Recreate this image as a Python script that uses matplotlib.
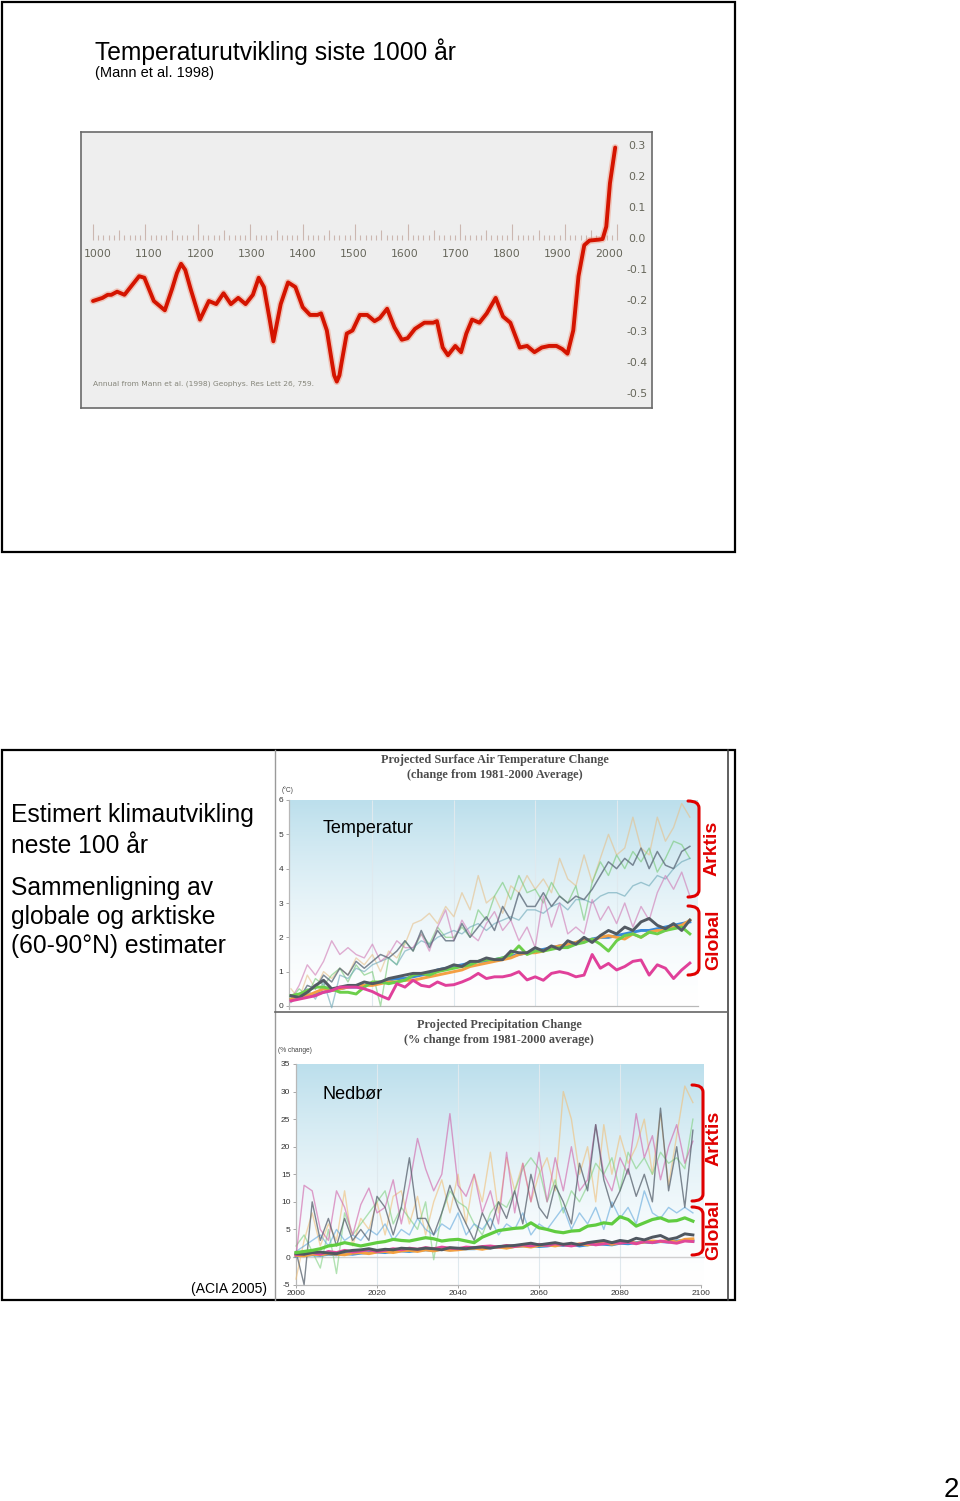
import numpy as np
import matplotlib
matplotlib.use("Agg")
import matplotlib.pyplot as plt
from matplotlib.path import Path
from matplotlib.patches import PathPatch, Rectangle

W, H = 960, 1501
plt.rcParams['font.family'] = ['Liberation Sans', 'DejaVu Sans']

# ---------------- data ----------------
MANN_YEARS = [1000, 1018, 1028, 1035, 1046, 1060, 1074, 1088, 1098, 1116, 1137, 1151, 1160,
              1168, 1176, 1186, 1204, 1221, 1235, 1249, 1263, 1277, 1291, 1305, 1316, 1326,
              1337, 1344, 1358, 1372, 1386, 1400, 1414, 1428, 1435, 1446, 1456, 1460, 1465,
              1470, 1474, 1484, 1495, 1509, 1523, 1537, 1547, 1561, 1575, 1589, 1600, 1614,
              1632, 1649, 1656, 1667, 1677, 1691, 1702, 1712, 1723, 1737, 1751, 1768, 1782,
              1796, 1814, 1828, 1842, 1856, 1870, 1884, 1895, 1905, 1916, 1926, 1937, 1947,
              1965, 1972, 1979, 1986, 1996]
MANN_ANOMALY = [-0.20, -0.19, -0.18, -0.18, -0.17, -0.18, -0.15, -0.12, -0.125, -0.20, -0.23,
                -0.16, -0.11, -0.08, -0.10, -0.16, -0.26, -0.20, -0.21, -0.175, -0.21, -0.19,
                -0.21, -0.18, -0.125, -0.155, -0.26, -0.33, -0.21, -0.14, -0.155, -0.22,
                -0.245, -0.245, -0.24, -0.295, -0.40, -0.44, -0.46, -0.44, -0.40, -0.305,
                -0.295, -0.245, -0.245, -0.265, -0.255, -0.225, -0.285, -0.325, -0.32, -0.29,
                -0.27, -0.27, -0.265, -0.35, -0.375, -0.345, -0.365, -0.305, -0.26, -0.27,
                -0.24, -0.19, -0.25, -0.27, -0.35, -0.345, -0.365, -0.35, -0.345, -0.345,
                -0.355, -0.37, -0.295, -0.12, -0.02, -0.005, -0.002, 0.0, 0.04, 0.18, 0.295]
MANN_XLABELS = [1000, 1100, 1200, 1300, 1400, 1500, 1600, 1700, 1800, 1900, 2000]
MANN_YLABELS = [0.3, 0.2, 0.1, 0.0, -0.1, -0.2, -0.3, -0.4, -0.5]

PROJ_YEARS = list(range(2000, 2100, 2))

TEMP_GLOBAL_GRAY = [0.3, 0.25, 0.4, 0.6, 0.75, 0.5, 0.55, 0.6, 0.6, 0.7,
                    0.65, 0.7, 0.8, 0.85, 0.9, 0.95, 0.95, 1.0, 1.05, 1.1,
                    1.2, 1.15, 1.3, 1.3, 1.4, 1.35, 1.35, 1.6, 1.55, 1.55,
                    1.7, 1.6, 1.75, 1.65, 1.9, 1.8, 2.0, 1.85, 2.05, 2.2,
                    2.1, 2.3, 2.2, 2.45, 2.55, 2.35, 2.25, 2.4, 2.2, 2.5]
TEMP_GLOBAL_BLUE = [0.2, 0.25, 0.3, 0.35, 0.4, 0.45, 0.5, 0.55, 0.55, 0.6,
                    0.65, 0.7, 0.75, 0.8, 0.8, 0.85, 0.9, 0.95, 1.05, 1.1,
                    1.15, 1.2, 1.25, 1.3, 1.3, 1.35, 1.4, 1.45, 1.5, 1.55,
                    1.6, 1.65, 1.7, 1.75, 1.75, 1.85, 1.9, 1.95, 2.0, 2.0,
                    2.05, 2.1, 2.15, 2.2, 2.2, 2.25, 2.3, 2.35, 2.4, 2.45]
TEMP_GLOBAL_ORANGE = [0.2, 0.3, 0.3, 0.4, 0.5, 0.45, 0.5, 0.55, 0.6, 0.6,
                      0.6, 0.65, 0.7, 0.7, 0.75, 0.75, 0.8, 0.85, 0.9, 0.95,
                      1.0, 1.05, 1.15, 1.2, 1.25, 1.3, 1.35, 1.4, 1.5, 1.55,
                      1.55, 1.6, 1.7, 1.75, 1.8, 1.85, 1.95, 1.9, 2.0, 2.05,
                      2.0, 1.95, 2.1, 2.0, 2.15, 2.2, 2.2, 2.3, 2.35, 2.5]
TEMP_GLOBAL_GREEN = [0.3, 0.35, 0.45, 0.55, 0.55, 0.5, 0.4, 0.4, 0.35, 0.55,
                     0.7, 0.7, 0.65, 0.7, 0.75, 0.9, 0.95, 0.9, 1.0, 1.05,
                     1.1, 1.15, 1.2, 1.3, 1.35, 1.35, 1.4, 1.5, 1.75, 1.5,
                     1.6, 1.6, 1.65, 1.7, 1.7, 1.8, 1.85, 1.95, 1.8, 1.6,
                     1.9, 2.05, 2.1, 2.0, 2.15, 2.1, 2.2, 2.25, 2.3, 2.1]
TEMP_GLOBAL_MAGENTA = [0.15, 0.2, 0.25, 0.3, 0.4, 0.45, 0.55, 0.55, 0.55, 0.5,
                       0.42, 0.3, 0.2, 0.65, 0.55, 0.75, 0.6, 0.56, 0.7, 0.6,
                       0.62, 0.7, 0.8, 0.95, 0.8, 0.85, 0.85, 0.9, 1.0, 0.76,
                       0.85, 0.75, 0.95, 1.0, 0.95, 0.85, 0.9, 1.5, 1.1, 1.24,
                       1.05, 1.15, 1.3, 1.34, 0.9, 1.2, 1.1, 0.8, 1.05, 1.25]
TEMP_ARCTIC_TAN = [0.5, 0.2, 0.9, 0.5, 1.0, 0.8, 1.1, 0.9, 1.4, 1.2,
                   1.5, 1.0, 1.6, 1.4, 1.8, 2.4, 2.5, 2.7, 2.4, 2.9,
                   2.6, 3.3, 2.8, 3.8, 3.0, 3.2, 2.7, 3.5, 3.3, 3.8,
                   3.4, 3.7, 3.3, 4.3, 3.7, 3.5, 4.4, 3.6, 4.3, 5.0,
                   4.4, 4.6, 5.5, 4.6, 4.4, 5.5, 4.8, 5.2, 5.9, 5.5]
TEMP_ARCTIC_GREEN = [0.2, 0.5, 0.3, 0.8, 0.6, 0.9, 1.1, 0.7, 1.2, 0.9,
                     1.0, 0.0, 1.4, 1.2, 1.9, 1.6, 2.1, 1.8, 2.3, 2.0,
                     2.0, 2.3, 2.0, 2.8, 2.5, 3.2, 3.6, 3.1, 3.8, 3.3,
                     3.4, 3.0, 3.6, 3.2, 3.0, 3.5, 2.5, 3.6, 4.2, 3.8,
                     4.4, 4.0, 4.5, 4.2, 4.6, 3.9, 4.3, 4.8, 4.7, 4.3]
TEMP_ARCTIC_TEAL = [0.1, 0.3, 0.5, 0.2, 0.7, -0.05, 0.9, 0.8, 1.1, 1.0,
                    1.2, 1.3, 1.4, 1.2, 1.6, 1.7, 1.9, 1.8, 2.0, 2.1,
                    2.2, 2.1, 2.3, 2.4, 2.2, 2.4, 2.5, 2.6, 2.5, 2.8,
                    2.8, 2.7, 2.9, 3.0, 2.8, 3.1, 3.1, 3.0, 3.2, 3.3,
                    3.3, 3.2, 3.5, 3.6, 3.5, 3.8, 3.7, 4.0, 4.2, 4.3]
TEMP_ARCTIC_SLATE = [0.3, 0.2, 0.6, 0.5, 0.9, 0.7, 1.1, 0.9, 1.3, 1.1,
                     1.3, 1.5, 1.4, 1.6, 1.9, 1.6, 2.2, 1.7, 2.2, 1.9,
                     1.9, 2.4, 2.0, 2.3, 2.6, 2.2, 2.9, 2.5, 3.3, 2.9,
                     2.9, 3.3, 2.9, 3.2, 3.0, 3.2, 3.1, 3.4, 3.8, 4.2,
                     4.0, 4.3, 4.1, 4.6, 4.0, 4.5, 4.1, 4.0, 4.5, 4.65]
TEMP_ARCTIC_PINK = [0.2, 0.6, 1.2, 0.9, 1.3, 1.9, 1.5, 1.7, 1.5, 1.4,
                    1.8, 1.3, 1.5, 1.9, 1.7, 1.7, 2.1, 1.6, 2.3, 2.8,
                    1.9, 2.5, 2.1, 1.9, 2.4, 2.75, 2.2, 2.5, 1.9, 2.3,
                    1.7, 3.2, 2.3, 3.0, 2.1, 2.3, 2.1, 3.1, 2.5, 2.9,
                    2.4, 3.0, 2.3, 2.9, 2.5, 3.3, 3.8, 3.4, 3.9, 3.2]
TEMP_YTICKS = [0, 1, 2, 3, 4, 5, 6]

PREC_GLOBAL_GREEN = [0.8, 1.0, 1.2, 1.5, 2.0, 2.2, 2.6, 2.3, 2.0, 2.3,
                     2.6, 2.8, 3.2, 3.0, 2.9, 3.2, 3.5, 3.3, 2.9, 3.1,
                     3.2, 2.9, 2.6, 3.6, 4.2, 4.8, 5.0, 5.2, 5.3, 6.2,
                     5.3, 5.0, 4.6, 4.4, 4.7, 4.8, 5.6, 5.8, 6.2, 6.0,
                     7.3, 6.8, 5.6, 6.2, 6.8, 7.1, 6.5, 6.6, 7.1, 6.5]
PREC_GLOBAL_GRAY = [0.6, 0.5, 0.8, 0.9, 0.7, 0.6, 1.0, 1.2, 1.3, 1.5,
                    1.2, 1.4, 1.3, 1.6, 1.5, 1.4, 1.6, 1.5, 1.3, 1.7,
                    1.6, 1.5, 1.7, 1.8, 1.6, 1.9, 2.0, 2.1, 2.3, 2.5,
                    2.2, 2.4, 2.6, 2.3, 2.5, 2.2, 2.6, 2.8, 3.0, 2.6,
                    3.0, 2.8, 3.4, 3.1, 3.6, 3.9, 3.2, 3.5, 4.2, 4.0]
PREC_GLOBAL_BLUE = [0.2, 0.3, 0.4, 0.3, 0.5, 0.4, 0.6, 0.5, 0.7, 0.8,
                    0.9, 0.8, 1.0, 1.1, 1.0, 1.2, 1.3, 1.2, 1.4, 1.3,
                    1.4, 1.5, 1.5, 1.6, 1.7, 1.8, 1.7, 1.9, 2.0, 2.1,
                    1.9, 2.0, 2.2, 2.1, 2.3, 2.0, 2.2, 2.4, 2.3, 2.2,
                    2.5, 2.4, 2.6, 2.7, 2.6, 2.8, 2.7, 2.9, 3.0, 2.9]
PREC_GLOBAL_ORANGE = [0.3, 0.2, 0.5, 0.4, 0.6, 0.5, 0.4, 0.7, 0.8, 0.6,
                      0.9, 1.0, 0.8, 1.1, 1.2, 1.0, 1.3, 1.1, 1.4, 1.2,
                      1.3, 1.5, 1.6, 1.4, 1.7, 1.8, 1.6, 1.9, 2.0, 1.8,
                      2.1, 2.2, 2.0, 2.3, 2.1, 2.4, 2.2, 2.5, 2.6, 2.3,
                      2.6, 2.8, 2.5, 2.7, 2.9, 2.8, 3.0, 2.7, 3.2, 3.3]
PREC_GLOBAL_MAGENTA = [0.4, 0.6, 0.8, 0.5, 1.0, 0.8, 1.2, 0.9, 1.1, 1.3,
                       1.0, 1.2, 1.5, 1.3, 1.6, 1.4, 1.7, 1.5, 1.8, 1.6,
                       1.5, 1.8, 1.7, 1.9, 2.0, 1.8, 2.1, 1.9, 2.2, 2.0,
                       2.3, 2.1, 2.4, 2.2, 2.0, 2.3, 2.5, 2.2, 2.4, 2.6,
                       2.5, 2.7, 2.4, 2.8, 2.6, 2.9, 2.7, 2.5, 2.9, 2.8]
PREC_ARCTIC_PINK = [0, 13, 12, 5, 3, 12, 9, 4, 9.5, 12.5,
                    8, 9, 14, 6, 13, 21.5, 16, 12, 15, 26,
                    13, 11, 15, 8, 12, 6, 19, 8, 17, 10,
                    19, 10, 18, 12, 20, 12, 14, 24, 15, 12,
                    18, 15, 26, 18, 22, 14, 20, 24, 17, 21]
PREC_ARCTIC_TAN = [-4, 3, 8, 2, 6, 3, 12, 2, 7, 5,
                   10, 4, 11, 12, 6, 11, 4, 10, 14, 8,
                   15, 6, 15, 10, 19, 8, 18, 12, 17, 10,
                   15, 18, 12, 30, 25, 15, 20, 10, 24, 15,
                   22, 17, 20, 25, 15, 26, 13, 22, 31, 28]
PREC_ARCTIC_SLATE = [1, -5, 10, 3, 7, 2, 7, 3, 5, 3,
                     11, 9, 4, 9, 18, 7, 7, 4, 8, 13,
                     9, 6, 3, 8, 5, 10, 7, 12, 6, 15,
                     9, 7, 13, 10, 6, 17, 12, 24, 14, 9,
                     12, 16, 11, 15, 10, 27, 12, 20, 9, 23]
PREC_ARCTIC_GREEN = [2, 4, 1, -2, 5, -3, 8, 4, 6, 8,
                     10, 12, 6, 9, 7, 5, 10, -0.5, 8, 12,
                     10, 9, 6, 4, 8, 10, 9, 12, 16, 18,
                     16, 10, 14, 8, 12, 10, 13, 17, 15, 18,
                     12, 19, 16, 18, 15, 19, 17, 18, 16, 25]
PREC_ARCTIC_BLUE = [1, 2, 3, 4, 2, 5, 3, 4, 3, 5,
                    4, 6, 3, 5, 4, 7, 5, 4, 6, 5,
                    8, 4, 6, 5, 7, 4, 6, 5, 8, 4,
                    6, 5, 7, 9, 5, 8, 6, 9, 5, 10,
                    7, 9, 6, 12, 8, 7, 9, 8, 9, 8]
PREC_YTICKS = [-5, 0, 5, 10, 15, 20, 25, 30, 35]
PREC_XTICKS = [2000, 2020, 2040, 2060, 2080, 2100]

# ---------------- figure helpers ----------------
fig = plt.figure(figsize=(W / 100, H / 100), dpi=100)
fig.patch.set_facecolor('white')


def lin(p0, v0, p1, v1, q):
    return v0 + (q - p0) * (v1 - v0) / (p1 - p0)


def px_axes(l, t, r, b, xcal, ycal, z=1):
    ax = fig.add_axes([l / W, 1 - b / H, (r - l) / W, (b - t) / H], zorder=z)
    ax.set_xlim(lin(*xcal, l), lin(*xcal, r))
    ax.set_ylim(lin(*ycal, b), lin(*ycal, t))
    return ax


NARROW = ['Liberation Sans Narrow', 'DejaVu Sans']
SERIF = ['Liberation Serif', 'DejaVu Serif']

# ---------------- Mann et al. chart ----------------
MX = (93, 1000, 617.3, 2000)
MY = (239, 0.0, 146, 0.3)
axm = px_axes(81, 132, 652, 408, MX, MY)
axm.set_facecolor('#eeeeee')
for s in axm.spines.values():
    s.set_color('#6a6a6a')
    s.set_linewidth(1.2)
axm.set_xticks([])
axm.set_yticks([])
tick_years = np.arange(1000, 2001, 10)
tick_tops = np.where(tick_years % 100 == 0, 0.047, np.where(tick_years % 50 == 0, 0.028, 0.012))
axm.vlines(tick_years, -0.003, tick_tops, color='#cbb7b0', lw=0.8)
for yr in MANN_XLABELS:
    xpx = 98 + (yr - 1000) * 0.511
    axm.text(lin(*MX, xpx), lin(*MY, 254), str(yr), ha='center', va='center',
             fontsize=7.8, color='#66665a', family=NARROW)
for v in MANN_YLABELS:
    axm.text(lin(*MX, 637), v, f'{v:.1f}', ha='center', va='center',
             fontsize=7.8, color='#66665a', family=NARROW)
axm.plot(MANN_YEARS, MANN_ANOMALY, color='#f07a5a', lw=5.0, alpha=0.35,
         solid_capstyle='round', solid_joinstyle='round')
axm.plot(MANN_YEARS, MANN_ANOMALY, color='#d41400', lw=2.8,
         solid_capstyle='round', solid_joinstyle='round')
axm.text(lin(*MX, 93), lin(*MY, 384),
         'Annual from Mann et al. (1998) Geophys. Res Lett 26, 759.',
         fontsize=5.4, color='#85857a', ha='left', va='center', family=NARROW)


def gradient(ax, x0, x1, y0, y1, top):
    t = np.linspace(1, 0, 200) ** 1.5
    top = np.array(matplotlib.colors.to_rgb(top))
    img = (1 - t[:, None]) * np.ones(3)[None, :] + t[:, None] * top[None, :]
    img = np.repeat(img[:, None, :], 2, axis=1)
    ax.imshow(img, extent=[x0, x1, y0, y1], aspect='auto', zorder=0,
              interpolation='bilinear')


def style_chart(ax):
    ax.set_facecolor('none')
    for k in ('top', 'right'):
        ax.spines[k].set_visible(False)
    for k in ('left', 'bottom'):
        ax.spines[k].set_color('#b8b8b8')
        ax.spines[k].set_linewidth(0.9)
    ax.tick_params(length=2.5, width=0.6, color='#999999', labelsize=6,
                   labelcolor='#333333', pad=1.5)


ARC_STYLE = dict(lw=1.0, alpha=0.6, zorder=3)
GLB_STYLE = dict(lw=2.1, zorder=4)

# ---------------- Temperature chart ----------------
TX = (291, 2000, 698, 2100)
TY = (1006, 0, 800, 6)
axt = px_axes(289, 790, 702, 1012, TX, TY)
style_chart(axt)
xl = axt.get_xlim()
gradient(axt, xl[0], 2100, 0, 6, '#bcdfec')
axt.set_xlim(xl)
axt.set_ylim(lin(*TY, 1012), lin(*TY, 790))
axt.spines['bottom'].set_position(('data', 0))
axt.spines['bottom'].set_bounds(xl[0], 2100)
axt.spines['left'].set_bounds(-0.1, 6)
axt.set_xticks([])
axt.set_yticks(TEMP_YTICKS)
axt.set_yticklabels([str(v) for v in TEMP_YTICKS])
axt.vlines([2020, 2040, 2060, 2080], 0, 6, color='#dfe9ee', lw=0.8, zorder=1)

axt.plot(PROJ_YEARS, TEMP_ARCTIC_TAN, color='#e6c08a', **ARC_STYLE)
axt.plot(PROJ_YEARS, TEMP_ARCTIC_GREEN, color='#74c874', **ARC_STYLE)
axt.plot(PROJ_YEARS, TEMP_ARCTIC_TEAL, color='#6aa6b6', **ARC_STYLE)
axt.plot(PROJ_YEARS, TEMP_ARCTIC_PINK, color='#cf78b4', **ARC_STYLE)
axt.plot(PROJ_YEARS, TEMP_ARCTIC_SLATE, color='#5f6d7c', lw=1.1, alpha=0.8, zorder=3)
axt.plot(PROJ_YEARS, TEMP_GLOBAL_BLUE, color='#3a8ad8', **GLB_STYLE)
axt.plot(PROJ_YEARS, TEMP_GLOBAL_ORANGE, color='#f4a044', **GLB_STYLE)
axt.plot(PROJ_YEARS, TEMP_GLOBAL_GREEN, color='#6ccf4a', **GLB_STYLE)
axt.plot(PROJ_YEARS, TEMP_GLOBAL_GRAY, color='#525a63', **GLB_STYLE)
axt.plot(PROJ_YEARS, TEMP_GLOBAL_MAGENTA, color='#e0409a', **GLB_STYLE)

# ---------------- Precipitation chart ----------------
PX = (296, 2000, 701, 2100)
PY = (1257, 0, 1064, 35)
axp = px_axes(293, 1058, 705, 1298, PX, PY)
style_chart(axp)
xl = axp.get_xlim()
gradient(axp, 2000, 2100.5, -5, 35, '#bcdfec')
axp.set_xlim(xl)
axp.set_ylim(lin(*PY, 1298), lin(*PY, 1058))
axp.spines['left'].set_position(('data', 2000))
axp.spines['left'].set_bounds(-5, 35)
axp.spines['bottom'].set_position(('data', -5))
axp.spines['bottom'].set_bounds(2000, 2100)
axp.set_yticks(PREC_YTICKS)
axp.set_yticklabels([str(v) for v in PREC_YTICKS])
axp.set_xticks(PREC_XTICKS)
axp.set_xticklabels([str(v) for v in PREC_XTICKS])
axp.vlines([2020, 2040, 2060, 2080], -5, 35, color='#dfe9ee', lw=0.8, zorder=1)
axp.axhline(0, xmin=0, xmax=1, color='#cfcfcf', lw=1.0, zorder=1)

axp.plot(PROJ_YEARS, PREC_ARCTIC_TAN, color='#f0bf78', **ARC_STYLE)
axp.plot(PROJ_YEARS, PREC_ARCTIC_GREEN, color='#80d080', **ARC_STYLE)
axp.plot(PROJ_YEARS, PREC_ARCTIC_BLUE, color='#62a8dc', **ARC_STYLE)
axp.plot(PROJ_YEARS, PREC_ARCTIC_PINK, color='#d060a8', **ARC_STYLE)
axp.plot(PROJ_YEARS, PREC_ARCTIC_SLATE, color='#56606c', lw=1.0, alpha=0.75, zorder=3)
axp.plot(PROJ_YEARS, PREC_GLOBAL_BLUE, color='#3a90d8', **GLB_STYLE)
axp.plot(PROJ_YEARS, PREC_GLOBAL_ORANGE, color='#f4a040', **GLB_STYLE)
axp.plot(PROJ_YEARS, PREC_GLOBAL_MAGENTA, color='#e04898', **GLB_STYLE)
axp.plot(PROJ_YEARS, PREC_GLOBAL_GRAY, color='#4f5760', **GLB_STYLE)
axp.plot(PROJ_YEARS, PREC_GLOBAL_GREEN, color='#60cc40', lw=2.3, zorder=4)

# ---------------- overlay (slide text, frames, brackets) ----------------
ov = fig.add_axes([0, 0, 1, 1], zorder=20)
ov.set_xlim(0, W)
ov.set_ylim(H, 0)
ov.set_axis_off()
ov.patch.set_alpha(0)

ov.add_patch(Rectangle((2, 2), 733, 550, fill=False, ec='black', lw=1.6))
ov.add_patch(Rectangle((2, 750), 733, 550, fill=False, ec='black', lw=1.6))
ov.plot([275, 275], [750, 1300], color='#9a9a9a', lw=1.0)
ov.plot([728, 728], [750, 1300], color='#444444', lw=1.2)
ov.plot([275, 728], [1012, 1012], color='#666666', lw=1.2)

ov.text(95, 60, 'Temperaturutvikling siste 1000 år', fontsize=17.7, ha='left', va='baseline')
ov.text(95, 77, '(Mann et al. 1998)', fontsize=10.5, ha='left', va='baseline')

for txt, yb in [('Estimert klimautvikling', 822), ('neste 100 år', 853),
                ('Sammenligning av', 895), ('globale og arktiske', 924),
                ('(60-90°N) estimater', 953)]:
    ov.text(11, yb, txt, fontsize=17.7, ha='left', va='baseline')
ov.text(191, 1293, '(ACIA 2005)', fontsize=10, ha='left', va='baseline')
ov.text(959, 1497, '2', fontsize=20, ha='right', va='baseline')

ov.text(495, 760, 'Projected Surface Air Temperature Change', fontsize=8.8,
        fontweight='bold', color='#4d4d4d', ha='center', va='center', family=SERIF)
ov.text(495, 775, '(change from 1981-2000 Average)', fontsize=8.8,
        fontweight='bold', color='#4d4d4d', ha='center', va='center', family=SERIF)
ov.text(499, 1025, 'Projected Precipitation Change', fontsize=8.8,
        fontweight='bold', color='#4d4d4d', ha='center', va='center', family=SERIF)
ov.text(499, 1040, '(% change from 1981-2000 average)', fontsize=8.8,
        fontweight='bold', color='#4d4d4d', ha='center', va='center', family=SERIF)
ov.text(288, 790, '(°C)', fontsize=4.8, color='#444444', ha='center', va='center')
ov.text(295, 1051, '(% change)', fontsize=4.8, color='#444444', ha='center', va='center')

ov.text(323, 833, 'Temperatur', fontsize=13, ha='left', va='baseline')
ov.text(323, 1099, 'Nedbør', fontsize=13, ha='left', va='baseline')


def bracket(x_end, x_vert, y_top, y_bot, r=7):
    verts = [(x_end, y_top), (x_vert, y_top), (x_vert, y_top + r),
             (x_vert, y_bot - r), (x_vert, y_bot), (x_end, y_bot)]
    codes = [Path.MOVETO, Path.CURVE3, Path.CURVE3, Path.LINETO, Path.CURVE3, Path.CURVE3]
    ov.add_patch(PathPatch(Path(verts, codes), fill=False, ec='#e00000', lw=2.2,
                           capstyle='round'))


RED = '#e00000'
bracket(688, 699, 801, 897)
bracket(688, 699, 906, 975)
bracket(692, 703, 1085, 1201)
bracket(692, 703, 1207, 1255)
for txt, x, y in [('Arktis', 712, 848), ('Global', 714, 940),
                  ('Arktis', 714, 1138), ('Global', 714, 1230)]:
    ov.text(x, y, txt, fontsize=14, fontweight='bold', color=RED, rotation=90,
            ha='center', va='center')

fig.savefig('out.png', dpi=100)
